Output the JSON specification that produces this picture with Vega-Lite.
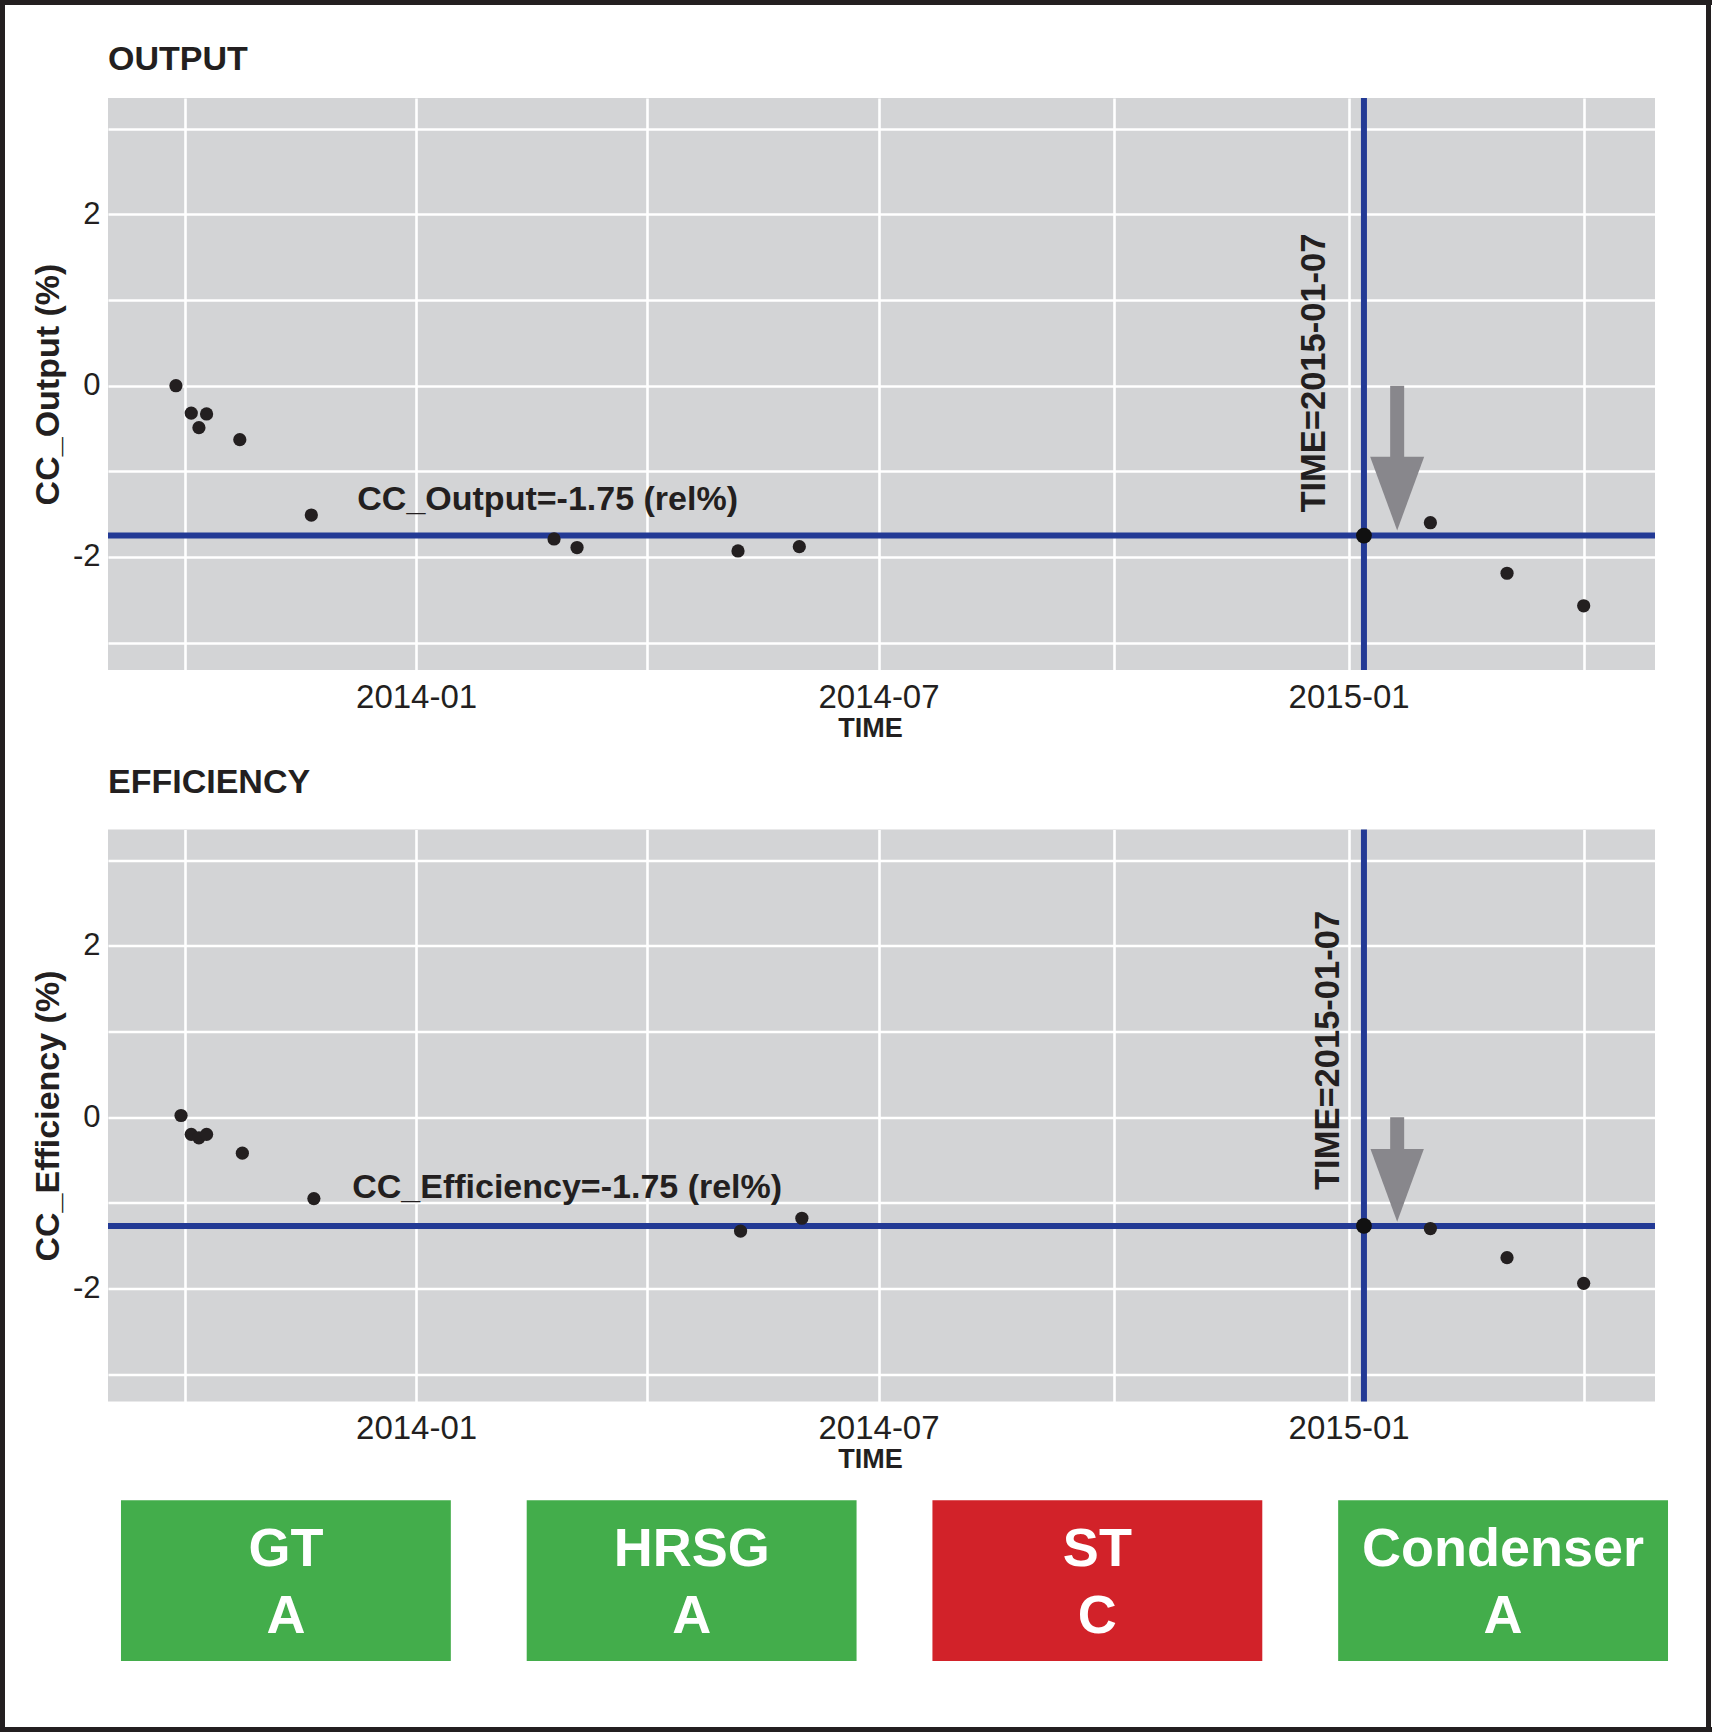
{
  "$schema": "https://vega.github.io/schema/vega-lite/v6.json",
  "padding": 0,
  "background": "white",
  "config": {
    "font": "Liberation Sans",
    "view": {"stroke": null},
    "text": {"color": "#231f20"}
  },
  "datasets": {
    "frame": [{"part": "border"}],
    "output": [
      {"date": "2013-09-29", "value": 0.0},
      {"date": "2013-10-05", "value": -0.32},
      {"date": "2013-10-08", "value": -0.49},
      {"date": "2013-10-11", "value": -0.33},
      {"date": "2013-10-24", "value": -0.63},
      {"date": "2013-11-21", "value": -1.51},
      {"date": "2014-02-24", "value": -1.79},
      {"date": "2014-03-05", "value": -1.89},
      {"date": "2014-05-07", "value": -1.93},
      {"date": "2014-05-31", "value": -1.88},
      {"date": "2015-01-07", "value": -1.75},
      {"date": "2015-02-02", "value": -1.6},
      {"date": "2015-03-04", "value": -2.19},
      {"date": "2015-04-03", "value": -2.57}
    ],
    "efficiency": [
      {"date": "2013-10-01", "value": 0.02},
      {"date": "2013-10-05", "value": -0.2},
      {"date": "2013-10-08", "value": -0.24},
      {"date": "2013-10-11", "value": -0.2},
      {"date": "2013-10-25", "value": -0.42},
      {"date": "2013-11-22", "value": -0.95},
      {"date": "2014-05-08", "value": -1.33},
      {"date": "2014-06-01", "value": -1.18},
      {"date": "2015-01-07", "value": -1.27},
      {"date": "2015-02-02", "value": -1.3},
      {"date": "2015-03-04", "value": -1.64},
      {"date": "2015-04-03", "value": -1.94}
    ],
    "output_event": [{"date": "2015-01-07", "threshold": -1.75, "timeLabel": "TIME=2015-01-07"}],
    "efficiency_event": [{"date": "2015-01-07", "threshold": -1.27, "timeLabel": "TIME=2015-01-07"}],
    "output_note": [{"date": "2013-12-09", "threshold": -1.75, "label": "CC_Output=-1.75 (rel%)"}],
    "efficiency_note": [{"date": "2013-12-07", "threshold": -1.27, "label": "CC_Efficiency=-1.75 (rel%)"}],
    "output_arrow": [{"date": "2015-01-20", "top": 0, "base": -0.835, "tip": -1.69}],
    "efficiency_arrow": [{"date": "2015-01-20", "top": 0, "base": -0.378, "tip": -1.22}],
    "units": [
      {"unit": "GT", "grade": "A"},
      {"unit": "HRSG", "grade": "A"},
      {"unit": "ST", "grade": "C"},
      {"unit": "Condenser", "grade": "A"}
    ]
  },
  "concat": [
    {
      "width": 1712, "height": 5,
      "data": {"name": "frame"},
      "mark": {"type": "rect", "color": "#231f20"},
      "encoding": {},
      "view": {"fill": "#231f20", "stroke": null}
    },
    {
      "concat": [
        {
          "width": 5, "height": 1722,
          "data": {"name": "frame"},
          "mark": {"type": "rect", "color": "#231f20"},
          "encoding": {},
          "view": {"fill": "#231f20", "stroke": null}
        },
        {
          "width": 26, "height": 1,
          "data": {"name": "frame"},
          "mark": {"type": "rect", "opacity": 0},
          "encoding": {}
        },
        {
          "concat": [
            {
              "width": 1, "height": 38,
              "data": {"name": "frame"},
              "mark": {"type": "rect", "opacity": 0},
              "encoding": {}
            },
            {
              "vconcat": [
                {
                  "width": 1547, "height": 572,
                  "title": {"text": "OUTPUT", "anchor": "start", "frame": "group", "fontSize": 34, "fontWeight": "bold", "color": "#231f20", "baseline": "alphabetic", "offset": -9},
                  "view": {"fill": "#d3d4d6", "stroke": null},
                  "layer": [
                    {
                      "data": {"name": "output_event"},
                      "mark": {"type": "rule", "color": "#233a95", "strokeWidth": 6},
                      "encoding": {"y": {"field": "threshold", "type": "quantitative", "scale": {"domain": [-3.32, 3.36], "nice": false, "zero": false},
                        "axis": {"title": "CC_Output (%)", "values": [-3, -2, -1, 0, 1, 2, 3],
                          "labelExpr": "datum.value % 2 == 0 ? toString(datum.value) : ''",
                          "ticks": false, "domain": false, "grid": true, "gridColor": "#ffffff", "gridWidth": 2.6,
                          "labelFontSize": 31, "labelColor": "#231f20", "labelPadding": 8,
                          "titleFontSize": 34, "titleFontWeight": "bold", "titleColor": "#231f20", "titlePadding": 7}}}
                    },
                    {
                      "data": {"name": "output_event"},
                      "mark": {"type": "rule", "color": "#233a95", "strokeWidth": 6},
                      "encoding": {"x": {"field": "date", "type": "temporal", "scale": {"type": "utc", "domain": [{"year": 2013, "month": 9, "date": 2, "hours": 10, "utc": true}, {"year": 2015, "month": 4, "date": 30, "hours": 22, "utc": true}], "nice": false},
                        "axis": {"title": "TIME", "values": [{"year": 2013, "month": 10, "date": 2, "hours": 12, "utc": true}, {"year": 2014, "month": 1, "date": 1, "utc": true}, {"year": 2014, "month": 4, "date": 1, "hours": 12, "utc": true}, {"year": 2014, "month": 7, "date": 1, "utc": true}, {"year": 2014, "month": 10, "date": 1, "utc": true}, {"year": 2015, "month": 1, "date": 1, "utc": true}, {"year": 2015, "month": 4, "date": 3, "utc": true}],
                          "labelExpr": "utcmonth(datum.value) % 6 == 0 ? utcFormat(datum.value, '%Y-%m') : ''",
                          "ticks": false, "domain": false, "grid": true, "gridColor": "#ffffff", "gridWidth": 2.6,
                          "labelFontSize": 33, "labelColor": "#231f20", "labelPadding": 11, "labelOverlap": false, "labelFlush": false,
                          "titleFontSize": 27, "titleFontWeight": "bold", "titleColor": "#231f20", "titlePadding": 1, "titleX": 762}}}
                    },
                    {
                      "data": {"name": "output_arrow"},
                      "mark": {"type": "rule", "color": "#88878c", "strokeWidth": 14},
                      "encoding": {
                        "x": {"field": "date", "type": "temporal"},
                        "y": {"field": "top", "type": "quantitative"},
                        "y2": {"field": "base"}
                      }
                    },
                    {
                      "data": {"name": "output_arrow"},
                      "mark": {"type": "point", "shape": "M -0.733 -2 L 0.733 -2 L 0 0 Z", "size": 5432, "filled": true, "color": "#88878c", "opacity": 1, "strokeWidth": 0},
                      "encoding": {
                        "x": {"field": "date", "type": "temporal"},
                        "y": {"field": "tip", "type": "quantitative"}
                      }
                    },
                    {
                      "data": {"name": "output_note"},
                      "mark": {"type": "text", "align": "left", "baseline": "alphabetic", "dy": -26, "fontSize": 34, "fontWeight": "bold", "color": "#231f20"},
                      "encoding": {
                        "x": {"field": "date", "type": "temporal"},
                        "y": {"field": "threshold", "type": "quantitative"},
                        "text": {"field": "label"}
                      }
                    },
                    {
                      "data": {"name": "output_event"},
                      "mark": {"type": "text", "angle": 270, "align": "left", "baseline": "alphabetic", "dx": 23, "dy": -39, "fontSize": 34.5, "fontWeight": "bold", "color": "#231f20"},
                      "encoding": {
                        "x": {"field": "date", "type": "temporal"},
                        "y": {"field": "threshold", "type": "quantitative"},
                        "text": {"field": "timeLabel"}
                      }
                    },
                    {
                      "data": {"name": "output"},
                      "mark": {"type": "circle", "size": 175, "color": "#231f20", "opacity": 1},
                      "encoding": {
                        "x": {"field": "date", "type": "temporal"},
                        "y": {"field": "value", "type": "quantitative"}
                      }
                    },
                    {
                      "data": {"name": "output_event"},
                      "mark": {"type": "circle", "size": 250, "color": "#111111", "opacity": 1},
                      "encoding": {
                        "x": {"field": "date", "type": "temporal"},
                        "y": {"field": "threshold", "type": "quantitative"}
                      }
                    }
                  ]
                },
                {
                  "width": 1547, "height": 572,
                  "title": {"text": "EFFICIENCY", "anchor": "start", "frame": "group", "fontSize": 34, "fontWeight": "bold", "color": "#231f20", "baseline": "alphabetic", "offset": 0},
                  "view": {"fill": "#d3d4d6", "stroke": null},
                  "layer": [
                    {
                      "data": {"name": "efficiency_event"},
                      "mark": {"type": "rule", "color": "#233a95", "strokeWidth": 6},
                      "encoding": {"y": {"field": "threshold", "type": "quantitative", "scale": {"domain": [-3.32, 3.36], "nice": false, "zero": false},
                        "axis": {"title": "CC_Efficiency (%)", "values": [-3, -2, -1, 0, 1, 2, 3],
                          "labelExpr": "datum.value % 2 == 0 ? toString(datum.value) : ''",
                          "ticks": false, "domain": false, "grid": true, "gridColor": "#ffffff", "gridWidth": 2.6,
                          "labelFontSize": 31, "labelColor": "#231f20", "labelPadding": 8,
                          "titleFontSize": 34, "titleFontWeight": "bold", "titleColor": "#231f20", "titlePadding": 7}}}
                    },
                    {
                      "data": {"name": "efficiency_event"},
                      "mark": {"type": "rule", "color": "#233a95", "strokeWidth": 6},
                      "encoding": {"x": {"field": "date", "type": "temporal", "scale": {"type": "utc", "domain": [{"year": 2013, "month": 9, "date": 2, "hours": 10, "utc": true}, {"year": 2015, "month": 4, "date": 30, "hours": 22, "utc": true}], "nice": false},
                        "axis": {"title": "TIME", "values": [{"year": 2013, "month": 10, "date": 2, "hours": 12, "utc": true}, {"year": 2014, "month": 1, "date": 1, "utc": true}, {"year": 2014, "month": 4, "date": 1, "hours": 12, "utc": true}, {"year": 2014, "month": 7, "date": 1, "utc": true}, {"year": 2014, "month": 10, "date": 1, "utc": true}, {"year": 2015, "month": 1, "date": 1, "utc": true}, {"year": 2015, "month": 4, "date": 3, "utc": true}],
                          "labelExpr": "utcmonth(datum.value) % 6 == 0 ? utcFormat(datum.value, '%Y-%m') : ''",
                          "ticks": false, "domain": false, "grid": true, "gridColor": "#ffffff", "gridWidth": 2.6,
                          "labelFontSize": 33, "labelColor": "#231f20", "labelPadding": 11, "labelOverlap": false, "labelFlush": false,
                          "titleFontSize": 27, "titleFontWeight": "bold", "titleColor": "#231f20", "titlePadding": 1, "titleX": 762}}}
                    },
                    {
                      "data": {"name": "efficiency_arrow"},
                      "mark": {"type": "rule", "color": "#88878c", "strokeWidth": 14},
                      "encoding": {
                        "x": {"field": "date", "type": "temporal"},
                        "y": {"field": "top", "type": "quantitative"},
                        "y2": {"field": "base"}
                      }
                    },
                    {
                      "data": {"name": "efficiency_arrow"},
                      "mark": {"type": "point", "shape": "M -0.733 -2 L 0.733 -2 L 0 0 Z", "size": 5300, "filled": true, "color": "#88878c", "opacity": 1, "strokeWidth": 0},
                      "encoding": {
                        "x": {"field": "date", "type": "temporal"},
                        "y": {"field": "tip", "type": "quantitative"}
                      }
                    },
                    {
                      "data": {"name": "efficiency_note"},
                      "mark": {"type": "text", "align": "left", "baseline": "alphabetic", "dy": -28, "fontSize": 34, "fontWeight": "bold", "color": "#231f20"},
                      "encoding": {
                        "x": {"field": "date", "type": "temporal"},
                        "y": {"field": "threshold", "type": "quantitative"},
                        "text": {"field": "label"}
                      }
                    },
                    {
                      "data": {"name": "efficiency_event"},
                      "mark": {"type": "text", "angle": 270, "align": "left", "baseline": "alphabetic", "dx": 36, "dy": -25, "fontSize": 34.5, "fontWeight": "bold", "color": "#231f20"},
                      "encoding": {
                        "x": {"field": "date", "type": "temporal"},
                        "y": {"field": "threshold", "type": "quantitative"},
                        "text": {"field": "timeLabel"}
                      }
                    },
                    {
                      "data": {"name": "efficiency"},
                      "mark": {"type": "circle", "size": 175, "color": "#231f20", "opacity": 1},
                      "encoding": {
                        "x": {"field": "date", "type": "temporal"},
                        "y": {"field": "value", "type": "quantitative"}
                      }
                    },
                    {
                      "data": {"name": "efficiency_event"},
                      "mark": {"type": "circle", "size": 250, "color": "#111111", "opacity": 1},
                      "encoding": {
                        "x": {"field": "date", "type": "temporal"},
                        "y": {"field": "threshold", "type": "quantitative"}
                      }
                    }
                  ]
                },
                {
                  "width": 1573, "height": 164,
                  "data": {"name": "units"},
                  "encoding": {
                    "x": {"field": "unit", "type": "nominal", "sort": null, "scale": {"paddingInner": 0.187, "paddingOuter": 0.032}, "axis": null}
                  },
                  "layer": [
                    {
                      "mark": {"type": "rect"},
                      "encoding": {
                        "y": {"datum": 1, "type": "quantitative", "scale": {"domain": [0, 1.02], "nice": false, "zero": false}, "axis": null},
                        "y2": {"datum": 0},
                        "color": {"field": "grade", "type": "nominal", "scale": {"domain": ["A", "C"], "range": ["#43ad4b", "#d22229"]}, "legend": null}
                      }
                    },
                    {
                      "mark": {"type": "text", "fontSize": 54, "fontWeight": "bold", "color": "#ffffff", "baseline": "middle", "dy": -31},
                      "encoding": {
                        "y": {"datum": 0.5, "type": "quantitative"},
                        "text": {"field": "unit"}
                      }
                    },
                    {
                      "mark": {"type": "text", "fontSize": 54, "fontWeight": "bold", "color": "#ffffff", "baseline": "middle", "dy": 36},
                      "encoding": {
                        "y": {"datum": 0.5, "type": "quantitative"},
                        "text": {"field": "grade"}
                      }
                    }
                  ]
                }
              ],
              "spacing": 24.5
            }
          ],
          "columns": 1,
          "align": "none",
          "spacing": 0
        },
        {
          "width": 25, "height": 1,
          "data": {"name": "frame"},
          "mark": {"type": "rect", "opacity": 0},
          "encoding": {}
        },
        {
          "width": 5, "height": 1722,
          "data": {"name": "frame"},
          "mark": {"type": "rect", "color": "#231f20"},
          "encoding": {},
          "view": {"fill": "#231f20", "stroke": null}
        }
      ],
      "columns": 5,
      "align": "none",
      "spacing": 0
    },
    {
      "width": 1712, "height": 5,
      "data": {"name": "frame"},
      "mark": {"type": "rect", "color": "#231f20"},
      "encoding": {},
      "view": {"fill": "#231f20", "stroke": null}
    }
  ],
  "columns": 1,
  "align": "none",
  "spacing": 0
}
